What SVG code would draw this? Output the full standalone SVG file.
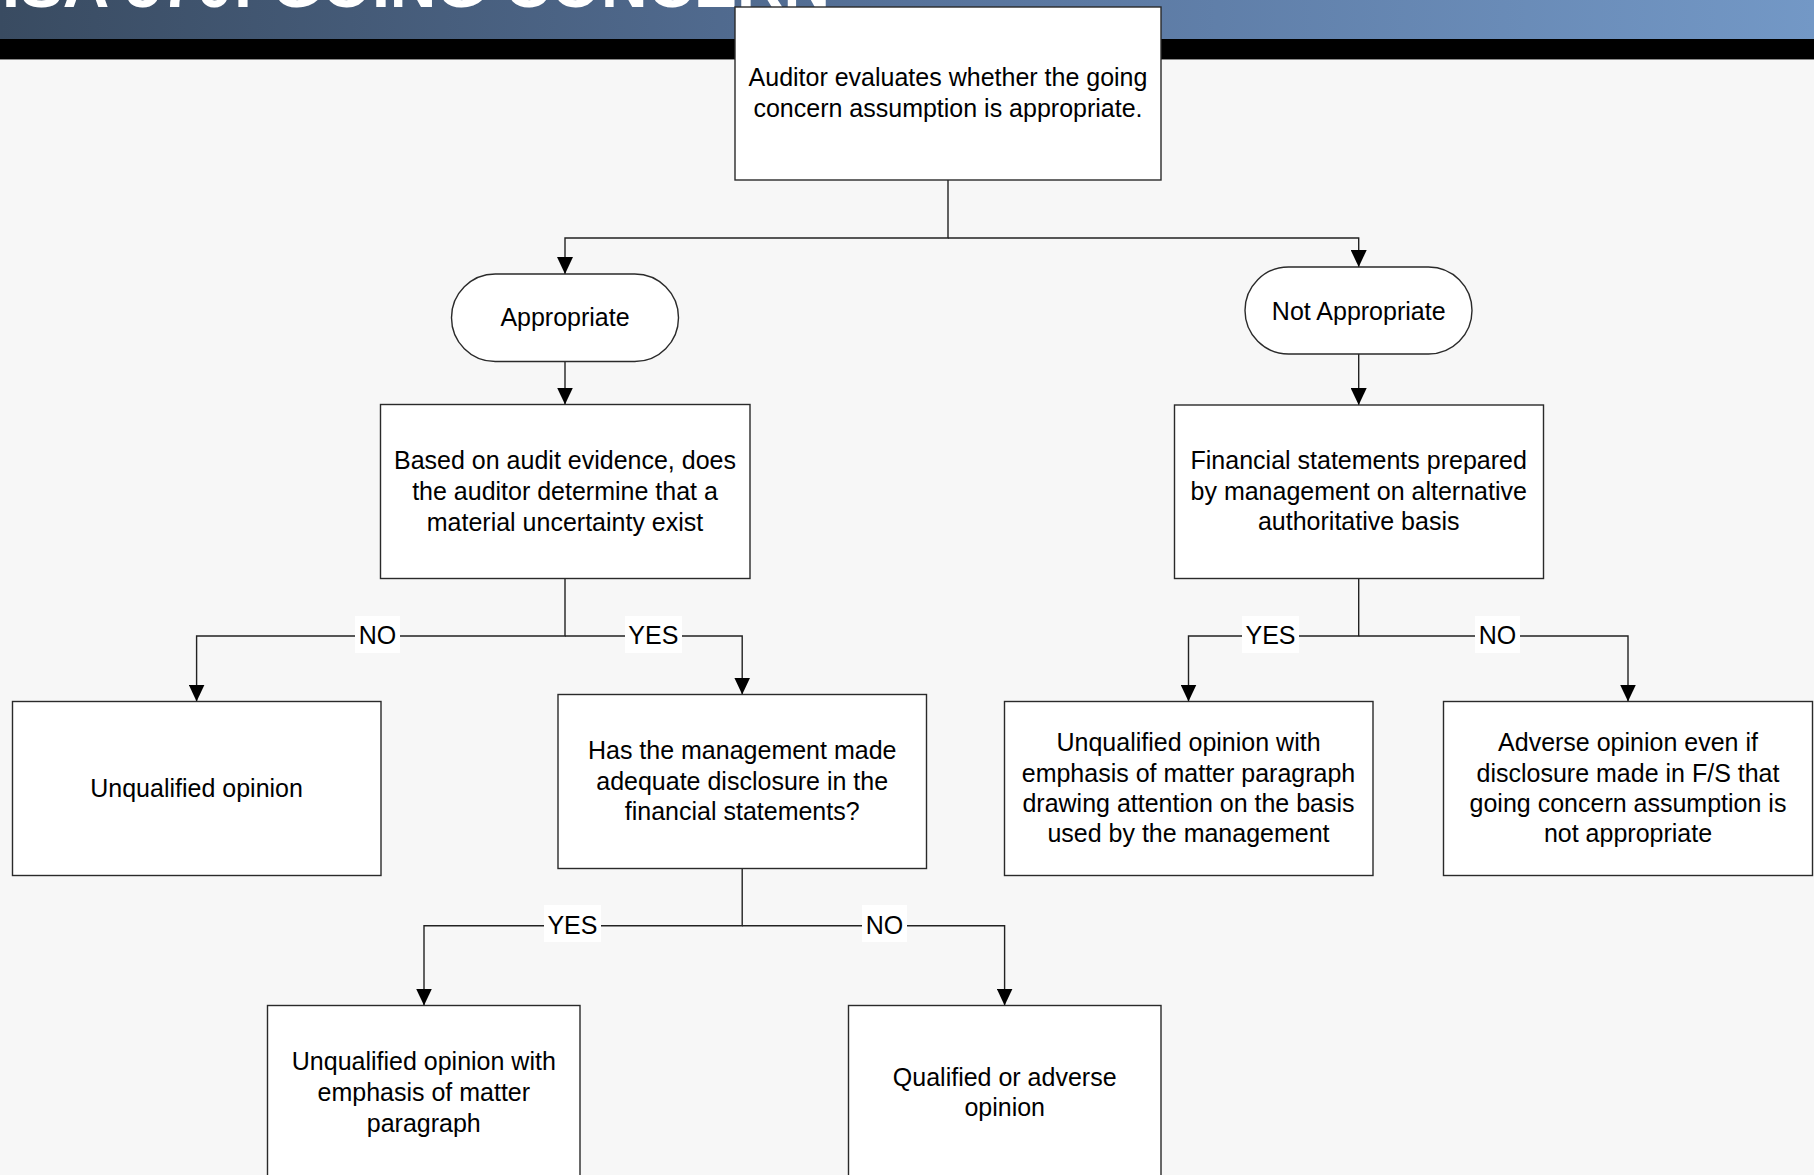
<svg xmlns="http://www.w3.org/2000/svg" width="1814" height="1175" viewBox="0 0 1814 1175">
<style>
.box{fill:#ffffff;stroke:#2a2a2a;stroke-width:1.4}
.t{font-family:"Liberation Sans",Arial,sans-serif;font-size:25px;fill:#000;text-anchor:middle}
.c{fill:none;stroke:#222;stroke-width:1.4}
.lb{fill:#ffffff}
</style>
<defs>
<linearGradient id="hdr" x1="0" y1="0" x2="1" y2="0">
<stop offset="0" stop-color="#394b61"/>
<stop offset="0.5" stop-color="#56729a"/>
<stop offset="1" stop-color="#7398c6"/>
</linearGradient>
<marker id="arr" markerUnits="userSpaceOnUse" markerWidth="17" markerHeight="16" refX="17" refY="8" orient="auto">
<path d="M0,0 L17,8 L0,16 z" fill="#000"/>
</marker>
</defs>
<rect x="0" y="0" width="1814" height="1175" fill="#f7f7f7"/>
<rect x="0" y="0" width="1814" height="39" fill="url(#hdr)"/>
<rect x="0" y="39" width="1814" height="20" fill="#000"/>
<rect x="0" y="59" width="1814" height="1" fill="#8a8a8a"/>
<text x="2" y="7" font-family="Liberation Sans,Arial,sans-serif" font-weight="bold" font-size="64" fill="#ffffff" textLength="828" lengthAdjust="spacingAndGlyphs">ISA 570: GOING CONCERN</text>

<g id="connectors">
<path class="c" d="M948,180 V238 H565 V274" marker-end="url(#arr)"/>
<path class="c" d="M948,238 H1358.7 V267" marker-end="url(#arr)"/>
<path class="c" d="M565,361.5 V404.5" marker-end="url(#arr)"/>
<path class="c" d="M1358.7,354 V405" marker-end="url(#arr)"/>
<path class="c" d="M565,578.5 V636 H196.6 V701.5" marker-end="url(#arr)"/>
<path class="c" d="M565,636 H742.2 V694.5" marker-end="url(#arr)"/>
<path class="c" d="M1358.7,578.5 V636 H1188.5 V701.5" marker-end="url(#arr)"/>
<path class="c" d="M1358.7,636 H1628 V701.5" marker-end="url(#arr)"/>
<path class="c" d="M742.2,868.5 V925.7 H424 V1005.5" marker-end="url(#arr)"/>
<path class="c" d="M742.2,925.7 H1004.6 V1005.5" marker-end="url(#arr)"/>
<g id="labels">
<rect class="lb" x="355" y="616" width="45" height="37"/>
<text class="t" x="377.5" y="644">NO</text>
<rect class="lb" x="625" y="616" width="57" height="37"/>
<text class="t" x="653.3" y="644">YES</text>
<rect class="lb" x="1242" y="616" width="57" height="37"/>
<text class="t" x="1270.5" y="644">YES</text>
<rect class="lb" x="1475" y="616" width="45" height="37"/>
<text class="t" x="1497.5" y="644">NO</text>
<rect class="lb" x="544" y="905" width="57" height="37"/>
<text class="t" x="572.4" y="933.5">YES</text>
<rect class="lb" x="862" y="905" width="45" height="37"/>
<text class="t" x="884.5" y="933.5">NO</text>
</g>
</g>

<g id="n-top">
<rect class="box" x="735" y="7" width="426" height="173"/>
<text class="t" x="948" y="85.5">Auditor evaluates whether the going</text>
<text class="t" x="948" y="117">concern assumption is appropriate.</text>
</g>
<g id="n-appropriate">
<rect class="box" x="451.5" y="274" width="227" height="87.5" rx="43.75" ry="43.75"/>
<text class="t" x="565" y="325.5">Appropriate</text>
</g>
<g id="n-notappropriate">
<rect class="box" x="1245" y="267" width="227" height="87" rx="43.5" ry="43.5"/>
<text class="t" x="1358.7" y="319.5">Not Appropriate</text>
</g>
<g id="n-based">
<rect class="box" x="380.5" y="404.5" width="369.5" height="174"/>
<text class="t" x="565" y="469">Based on audit evidence, does</text>
<text class="t" x="565" y="500">the auditor determine that a</text>
<text class="t" x="565" y="531">material uncertainty exist</text>
</g>
<g id="n-fs">
<rect class="box" x="1174.5" y="405" width="369" height="173.5"/>
<text class="t" x="1358.7" y="469">Financial statements prepared</text>
<text class="t" x="1358.7" y="499.5">by management on alternative</text>
<text class="t" x="1358.7" y="530">authoritative basis</text>
</g>
<g id="n-unqualified">
<rect class="box" x="12.5" y="701.5" width="368.5" height="174"/>
<text class="t" x="196.6" y="797">Unqualified opinion</text>
</g>
<g id="n-has">
<rect class="box" x="558" y="694.5" width="368.5" height="174"/>
<text class="t" x="742.2" y="758.5">Has the management made</text>
<text class="t" x="742.2" y="789.5">adequate disclosure in the</text>
<text class="t" x="742.2" y="820">financial statements?</text>
</g>
<g id="n-uemp-basis">
<rect class="box" x="1004.5" y="701.5" width="368.5" height="174"/>
<text class="t" x="1188.5" y="751">Unqualified opinion with</text>
<text class="t" x="1188.5" y="781.5">emphasis of matter paragraph</text>
<text class="t" x="1188.5" y="812">drawing attention on the basis</text>
<text class="t" x="1188.5" y="842">used by the management</text>
</g>
<g id="n-adverse">
<rect class="box" x="1443.5" y="701.5" width="369" height="174"/>
<text class="t" x="1628" y="751">Adverse opinion even if</text>
<text class="t" x="1628" y="781.5">disclosure made in F/S that</text>
<text class="t" x="1628" y="812">going concern assumption is</text>
<text class="t" x="1628" y="842">not appropriate</text>
</g>
<g id="n-uem">
<rect class="box" x="267.5" y="1005.5" width="312.5" height="190"/>
<text class="t" x="423.8" y="1070">Unqualified opinion with</text>
<text class="t" x="423.8" y="1101">emphasis of matter</text>
<text class="t" x="423.8" y="1132">paragraph</text>
</g>
<g id="n-qa">
<rect class="box" x="848.5" y="1005.5" width="312.5" height="190"/>
<text class="t" x="1004.7" y="1085.5">Qualified or adverse</text>
<text class="t" x="1004.7" y="1116">opinion</text>
</g>
</svg>
